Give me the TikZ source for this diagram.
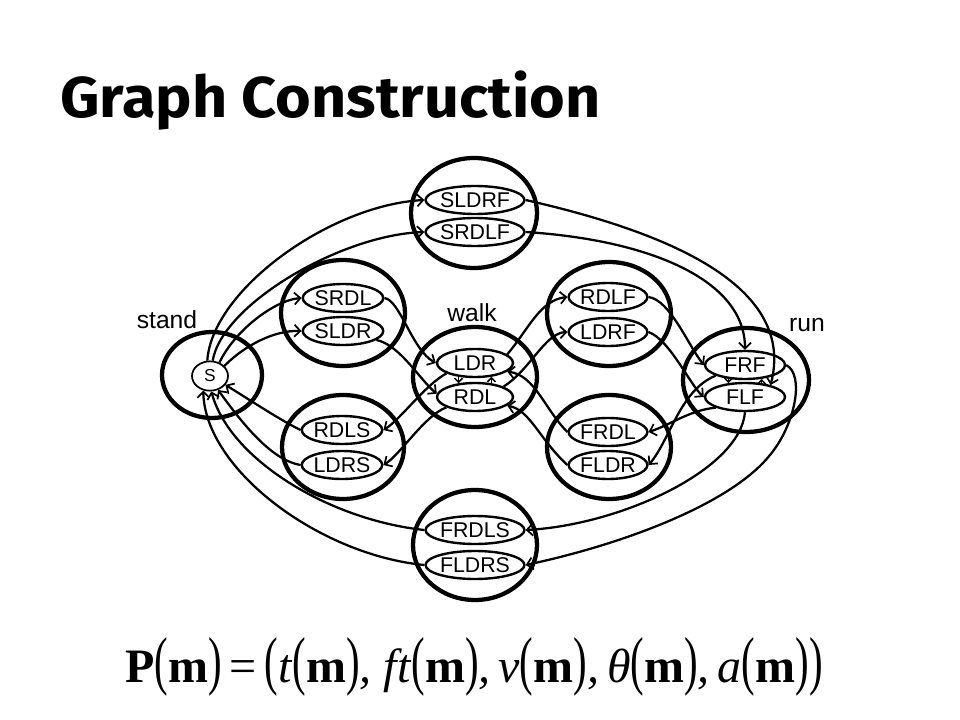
\documentclass[tikz,border=0pt]{standalone}
\usepackage{fontspec}
\usepackage{graphicx}
\setmainfont{Liberation Sans}
\newfontfamily\titlefont{Fira Sans}
\newfontfamily\formfont{Liberation Serif}
\usetikzlibrary{shapes.geometric,arrows.meta}
\newcommand\myLp{\scalebox{0.85}[1.35]{(}}
\newcommand\myRp{\scalebox{0.85}[1.35]{)}}
\begin{document}
\begin{tikzpicture}[x=0.75pt,y=-0.75pt,
  cluster/.style={ellipse, draw, line width=3.2pt, inner sep=0pt},
  inner/.style={ellipse, draw, line width=1.8pt, inner sep=0pt, minimum height=21pt,
     font=\fontsize{16}{18}\selectfont},
  edge/.style={line width=1.7pt, -{Straight Barb[length=4.5pt,width=9pt,line width=1.3pt]}},
  small/.style={line width=1.3pt, -{Straight Barb[length=3pt,width=6pt,line width=1.1pt]}},
  statelabel/.style={font=\fontsize{18.5}{20}\selectfont, inner sep=0pt}]
\useasboundingbox (0,0) rectangle (960,720);

% title
\node[anchor=base west, inner sep=0pt] (title) at (60,118)
  {\resizebox{405pt}{35pt}{\titlefont\bfseries\fontsize{40}{48}\selectfont Graph Construction}};

% clusters
\node[cluster, minimum width=75pt, minimum height=64.5pt] (stand) at (212,375) {};
\node[cluster, minimum width=94.5pt, minimum height=82.5pt] (ctop) at (474,213) {};
\node[cluster, minimum width=93pt, minimum height=79.5pt] (csr) at (343,313) {};
\node[cluster, minimum width=93pt, minimum height=75pt] (walk) at (475,377) {};
\node[cluster, minimum width=91.5pt, minimum height=78pt] (crs) at (343,447) {};
\node[cluster, minimum width=93pt, minimum height=82.5pt] (cbot) at (475,545) {};
\node[cluster, minimum width=93pt, minimum height=78pt] (crf) at (609,314) {};
\node[cluster, minimum width=93pt, minimum height=78pt] (cfr) at (609,447) {};
\node[cluster, minimum width=94.5pt, minimum height=78pt] (run) at (746,380) {};

% labels
\node[statelabel] (standlbl) at (167,320) {stand};
\node[statelabel] (walklbl) at (472,313) {walk};
\node[statelabel] (runlbl) at (807,325) {run};

% inner states
\node[ellipse, draw, line width=1.3pt, inner sep=0pt, minimum width=27pt, minimum height=22pt,
      font=\fontsize{13}{14}\selectfont] (S) at (210,376) {S};
\node[inner, minimum width=72pt] (SLDRF) at (475,200) {SLDRF};
\node[inner, minimum width=72pt] (SRDLF) at (475,232) {SRDLF};
\node[inner, minimum width=60pt] (SRDL) at (343,298) {SRDL};
\node[inner, minimum width=60pt] (SLDR) at (343,331) {SLDR};
\node[inner, minimum width=57pt] (LDR) at (475,363) {LDR};
\node[inner, minimum width=57pt] (RDL) at (475,397) {RDL};
\node[inner, minimum width=58.5pt] (RDLS) at (342,430) {RDLS};
\node[inner, minimum width=58.5pt] (LDRS) at (342,465) {LDRS};
\node[inner, minimum width=70.5pt] (FRDLS) at (475,530) {FRDLS};
\node[inner, minimum width=70.5pt] (FLDRS) at (475,565) {FLDRS};
\node[inner, minimum width=58.5pt] (RDLF) at (608,297) {RDLF};
\node[inner, minimum width=58.5pt] (LDRF) at (608,332) {LDRF};
\node[inner, minimum width=58.5pt] (FRDL) at (608,432) {FRDL};
\node[inner, minimum width=58.5pt] (FLDR) at (608,465) {FLDR};
\node[inner, minimum width=60pt] (FRF) at (745,365) {FRF};
\node[inner, minimum width=60pt] (FLF) at (745,397) {FLF};

% from stand
\draw[edge] (S.100) .. controls (212,290) and (330,205) .. (SLDRF.west);
\draw[edge] (S.80) .. controls (222,305) and (340,235) .. (SRDLF.west);
\draw[edge] (S.55) .. controls (235,330) and (275,300) .. (SRDL.west);
\draw[edge] (S.35) .. controls (245,345) and (275,330) .. (SLDR.west);
% into stand
\draw[edge] (RDLS.west) .. controls (280,420) and (250,400) .. (S.-30);
\draw[edge] (LDRS.west) .. controls (270,460) and (240,420) .. (S.-60);
\draw[edge] (FRDLS.west) .. controls (330,520) and (230,460) .. (S.-85);
\draw[edge] (FLDRS.west) .. controls (320,555) and (205,470) .. (S.-115);

% walk left side
\draw[edge] (SRDL.east) .. controls (400,300) and (412,350) .. (LDR.west);
\draw[edge] (SLDR.-15) .. controls (400,345) and (420,380) .. (RDL.175);
\draw[edge] (LDR.200) .. controls (425,385) and (400,420) .. (RDLS.east);
\draw[edge] (RDL.200) .. controls (425,415) and (400,455) .. (LDRS.east);
\draw[small] (LDR.-140) -- (RDL.140);
\draw[small] (RDL.40) -- (LDR.-40);

% walk right side
\draw[edge] (LDR.15) .. controls (528,330) and (540,300) .. (RDLF.west);
\draw[edge] (RDL.20) .. controls (530,370) and (545,333) .. (LDRF.west);
\draw[edge] (FRDL.west) .. controls (545,410) and (535,375) .. (LDR.-15);
\draw[edge] (FLDR.west) .. controls (540,440) and (530,410) .. (RDL.-15);

% run
\draw[edge] (RDLF.east) .. controls (670,300) and (688,345) .. (FRF.west);
\draw[edge] (LDRF.east) .. controls (670,340) and (690,385) .. (FLF.west);
\draw[edge] (FLF.200) .. controls (690,410) and (670,425) .. (FRDL.east);
\draw[edge] (FRF.200) .. controls (680,390) and (670,440) .. (FLDR.east);
\draw[small] (FRF.-140) -- (FLF.140);
\draw[small] (FLF.40) -- (FRF.-40);

% long arcs
\draw[edge] (SLDRF.east) .. controls (680,235) and (795,290) .. (FLF.25);
\draw[edge] (SRDLF.east) .. controls (650,240) and (745,280) .. (FRF.north);
\draw[edge] (FLF.south) .. controls (740,470) and (620,525) .. (FRDLS.east);
\draw[edge] (FRF.east) .. controls (805,375) and (795,425) .. (770,455)
   .. controls (730,505) and (620,545) .. (FLDRS.east);

% formula
\node[anchor=base west, inner sep=0pt] (formula) at (125,682)
  {\formfont\fontsize{36}{42}\selectfont
   \textbf{P}\myLp\textbf{m}\myRp\,=\,\myLp\textit{t}\myLp\textbf{m}\myRp\textit{,}
   \textit{ft}\myLp\textbf{m}\myRp\textit{,}\,\textit{v}\myLp\textbf{m}\myRp\textit{,}\,\textit{θ}\myLp\textbf{m}\myRp\textit{,}\,\textit{a}\myLp\textbf{m}\myRp\myRp};
\end{tikzpicture}
\end{document}
